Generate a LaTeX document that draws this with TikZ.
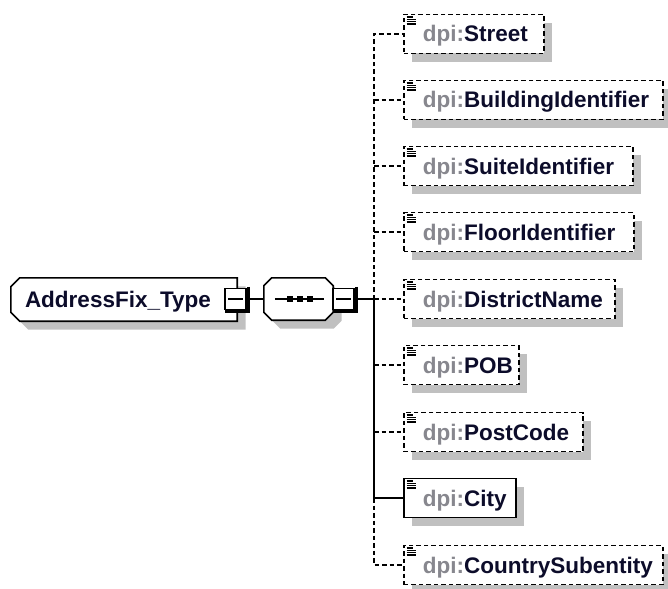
\documentclass[tikz,border=0pt]{standalone}
\usepackage{fontspec}
\setmainfont{Liberation Sans}
\usetikzlibrary{backgrounds,calc}

\definecolor{shade}{RGB}{192,192,192}
\definecolor{prefixgray}{RGB}{135,135,142}
\definecolor{namecol}{RGB}{12,12,42}

% element label: grey namespace prefix, dark local name
\newcommand\pfx[1]{{\color{prefixgray}dpi:}{\color{namecol}#1}}

\tikzset{
  x=1pt, y=-1pt,
  lbl/.style={font=\fontsize{22.5}{26}\selectfont\bfseries, text=namecol,
              text height=16pt, text depth=0pt},
  shadowed/.style={preaction={fill=shade, draw=none,
                   transform canvas={xshift=8.5pt, yshift=-8.5pt}}},
  boxline/.style={draw=black, line width=1.6pt},
  link/.style={line width=1.6pt},
  opt/.style={dash pattern=on 4.5pt off 3pt},
  elem/.style={lbl, anchor=west, rectangle, boxline, fill=white, shadowed,
               minimum height=39pt, inner ysep=0pt, inner xsep=19pt,
               text width=#1, align=left},
  optelem/.style={elem=#1, opt},
  rootbox/.style={lbl, rectangle, minimum width=226pt, minimum height=43pt,
                  inner ysep=0pt, inner xsep=14pt, text width=198pt, align=left},
  seqbox/.style={rectangle, minimum width=69pt, minimum height=42pt, inner sep=0pt},
  expander/.style={rectangle, draw=black, fill=white, line width=1.4pt,
                   minimum width=21pt, minimum height=21pt, inner sep=0pt},
}

% minus sign and heavy right/bottom rim of an expander box
\newcommand\expdeco[1]{%
  \draw[line width=1.4pt] ([xshift=4pt]#1.west) -- ([xshift=-4pt]#1.east);
  \draw[line width=3pt] ([xshift=1.5pt,yshift=1pt]#1.north east)
      -- ([xshift=1.5pt,yshift=-1.5pt]#1.south east)
      -- ([xshift=1pt,yshift=-1.5pt]#1.south west);
}
% "text content" glyph in an element's top left corner
\newcommand\elemicon[1]{%
  \draw[line width=1.4pt] ([xshift=3.5pt,yshift=-3.2pt]#1.north west) -- ++(6.5,0);
  \foreach \dy in {5.6,8,10.4}{
    \draw[line width=1.4pt] ([xshift=3.5pt,yshift=-\dy pt]#1.north west) -- ++(9,0);
  }
}

\begin{document}
\begin{tikzpicture}
  \useasboundingbox (0,0) rectangle (668,588);

  % complex type and its sequence compositor
  \node[rootbox] (root) at (124,299.5) {AddressFix\_Type};
  \node[seqbox] (seq) at (298.5,299) {};
  \node[expander] (rootexp) at (235.5,299) {};
  \node[expander] (seqexp) at (343.5,299) {};

  \begin{pgfonlayer}{background}
    \path[boxline, fill=white, shadowed]
      ($(root.north west)+(9,0)$) -- (root.north east) -- (root.south east)
      -- ($(root.south west)+(9,0)$) -- ($(root.south west)+(0,-9)$)
      -- ($(root.north west)+(0,9)$) -- cycle;
    \path[boxline, fill=white, shadowed]
      ($(seq.north west)+(8,0)$) -- ($(seq.north east)+(-8,0)$)
      -- ($(seq.north east)+(0,8)$) -- ($(seq.south east)+(0,-8)$)
      -- ($(seq.south east)+(-8,0)$) -- ($(seq.south west)+(8,0)$)
      -- ($(seq.south west)+(0,-8)$) -- ($(seq.north west)+(0,8)$) -- cycle;
  \end{pgfonlayer}

  \expdeco{rootexp}
  \expdeco{seqexp}

  % sequence symbol
  \draw[line width=1.4pt] ([xshift=11pt]seq.west) -- ([xshift=-9pt]seq.east);
  \foreach \dx in {-9,1,11}{
    \fill ([xshift=\dx pt]seq.center) ++(-3,-3) rectangle ++(6,6);
  }

  % child elements
  \node[optelem=102pt] (street)   at (403,34)  {\pfx{Street}};
  \node[optelem=221pt] (building) at (403,100) {\pfx{BuildingIdentifier}};
  \node[optelem=191pt] (suite)    at (403,166) {\pfx{SuiteIdentifier}};
  \node[optelem=192pt] (floor)    at (403,232) {\pfx{FloorIdentifier}};
  \node[optelem=173pt] (district) at (403,299) {\pfx{DistrictName}};
  \node[optelem=77pt]  (pob)      at (403,365) {\pfx{POB}};
  \node[optelem=141pt] (postcode) at (403,432) {\pfx{PostCode}};
  \node[elem=74pt]     (city)     at (403,498) {\pfx{City}};
  \node[optelem=221pt] (country)  at (403,565) {\pfx{CountrySubentity}};

  \foreach \n in {street,building,suite,floor,district,pob,postcode,city,country}{
    \elemicon{\n}
  }

  % connectors
  \coordinate (trunk) at (374,299);
  \draw[link] (rootexp.east) -- (seq.west);
  \draw[link] (seqexp.east) -- (trunk);
  \draw[link,opt] (trunk) |- (street.west);
  \draw[link,opt] (trunk |- building.west) -- (building.west);
  \draw[link,opt] (trunk |- suite.west) -- (suite.west);
  \draw[link,opt] (trunk |- floor.west) -- (floor.west);
  \draw[link,opt] (trunk) -- (district.west);
  \draw[link,opt] (trunk |- pob.west) -- (pob.west);
  \draw[link,opt] (trunk |- postcode.west) -- (postcode.west);
  \draw[link] (trunk) |- (city.west);
  \draw[link,opt] (trunk |- city.west) |- (country.west);
\end{tikzpicture}
\end{document}
